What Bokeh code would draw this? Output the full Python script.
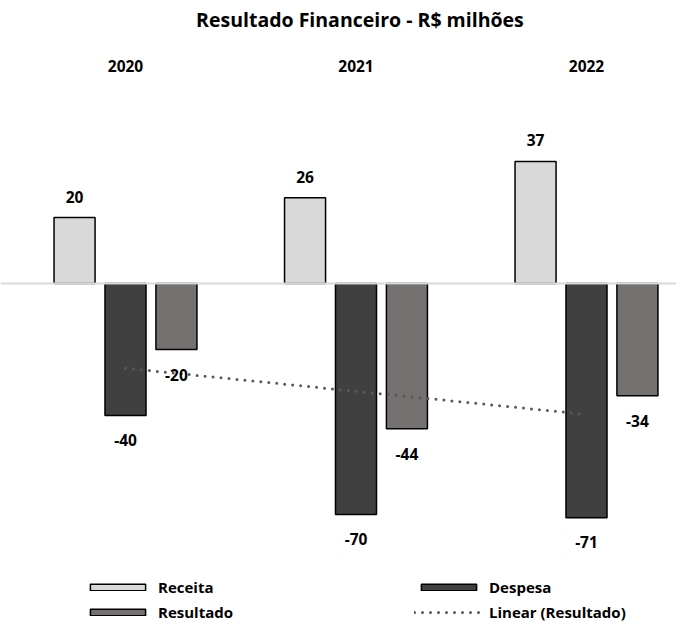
import numpy as np
from bokeh.plotting import figure
from bokeh.models import Range1d, Span, Legend, LegendItem, Label
from bokeh.core.properties import value
from bokeh.embed import file_html
from bokeh.resources import INLINE

# ---- data ----
years = ["2020", "2021", "2022"]
receita = [20, 26, 37]
despesa = [-40, -70, -71]
resultado = [-20, -44, -34]
title_text = "Resultado Financeiro - R$ milhões"

FONT = "Open Sans"
C_REC = "#d9d9d9"
C_DES = "#404040"
C_RES = "#767171"

xs = np.arange(len(years), dtype=float)
OFF = 0.221
BW = 0.178

p = figure(width=676, height=624,
           x_range=Range1d(-0.5423, 2.3905), y_range=Range1d(-103.33, 85.76),
           output_backend="svg", toolbar_location=None, min_border=0)
p.axis.visible = False
p.xgrid.visible = False
p.ygrid.visible = False
p.outline_line_color = None

r_rec = p.vbar(x=xs - OFF, top=receita, bottom=0, width=BW, fill_color=C_REC,
               line_color="black", line_width=1.5)
r_des = p.vbar(x=xs, top=0, bottom=despesa, width=BW, fill_color=C_DES,
               line_color="black", line_width=1.5)
r_res = p.vbar(x=xs + OFF, top=0, bottom=resultado, width=BW, fill_color=C_RES,
               line_color="black", line_width=1.5)

p.add_layout(Span(location=0, dimension="width", line_color="#d9d9d9", line_width=2))

# linear trend of Resultado
coef = np.polyfit(xs, resultado, 1)
trend = np.polyval(coef, xs)
r_trend = p.line(xs, trend, line_color="#595959", line_width=3,
                 line_dash="0 8", line_cap="round")

lbl_kw = dict(text_font=value(FONT), text_font_style="bold", text_font_size="15.5px",
              text_color="black", text_align="center", text_baseline="middle")
p.text(x=xs - OFF, y=receita, text=[str(v) for v in receita], y_offset=-21, **lbl_kw)
p.text(x=xs, y=despesa, text=[str(v) for v in despesa], y_offset=24, **lbl_kw)
p.text(x=xs + OFF, y=resultado, text=[str(v) for v in resultado], y_offset=25, **lbl_kw)

# year headers
p.text(x=xs, y=[65.8] * len(years), text=years, **lbl_kw)

# title
p.add_layout(Label(x=1.017, y=79.9, text=title_text, text_font=FONT,
                   text_font_style="bold", text_font_size="19.5px", text_color="black",
                   text_align="center", text_baseline="middle"))

leg_kw = dict(orientation="vertical", padding=0, margin=0, border_line_color=None,
              background_fill_alpha=0, glyph_width=69, glyph_height=8,
              label_height=8, label_standoff=6, spacing=5,
              label_text_font=FONT, label_text_font_style="bold",
              label_text_font_size="15px", label_text_color="black")
leg1 = Legend(items=[LegendItem(label="Receita", renderers=[r_rec]),
                     LegendItem(label="Resultado", renderers=[r_res])],
              location=(83, 2), **leg_kw)
leg2 = Legend(items=[LegendItem(label="Despesa", renderers=[r_des]),
                     LegendItem(label="Linear (Resultado)", renderers=[r_trend])],
              location=(414, 2), **leg_kw)
p.add_layout(leg1)
p.add_layout(leg2)

open("out.html", "w").write(file_html(p, INLINE))
